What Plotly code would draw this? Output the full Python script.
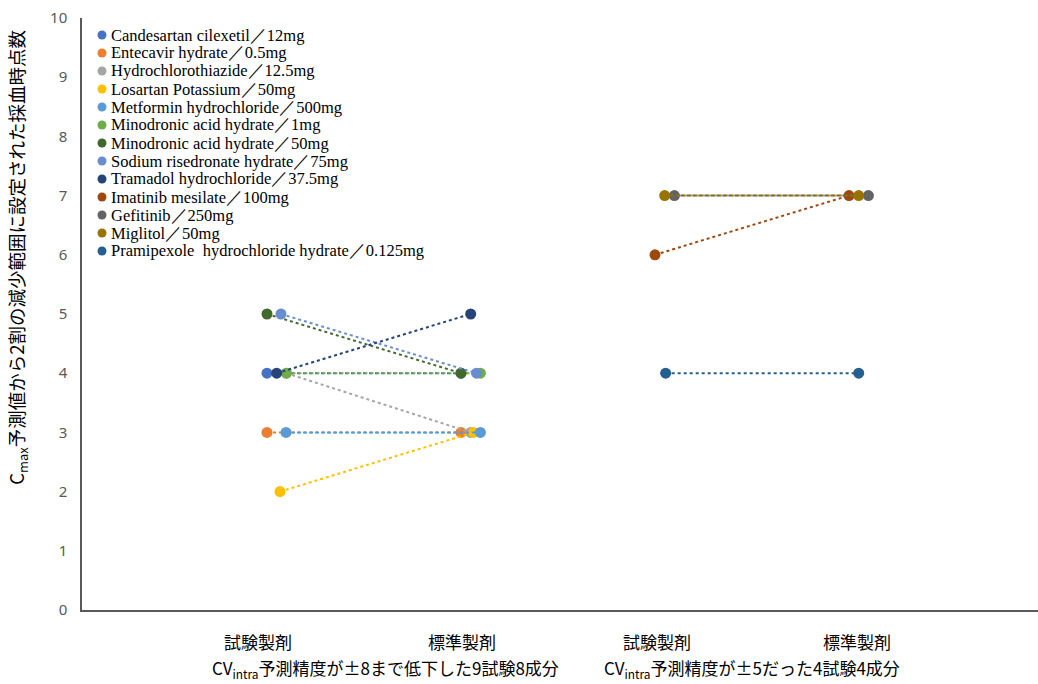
import plotly.graph_objects as go

# Drug / dose labels (legend order)
drugs = [
    "Candesartan cilexetil／12mg",
    "Entecavir hydrate／0.5mg",
    "Hydrochlorothiazide／12.5mg",
    "Losartan Potassium／50mg",
    "Metformin hydrochloride／500mg",
    "Minodronic acid hydrate／1mg",
    "Minodronic acid hydrate／50mg",
    "Sodium risedronate hydrate／75mg",
    "Tramadol hydrochloride／37.5mg",
    "Imatinib mesilate／100mg",
    "Gefitinib／250mg",
    "Miglitol／50mg",
    "Pramipexole  hydrochloride hydrate／0.125mg",
]

# Which comparison group each drug belongs to (0: first pair of columns, 1: second pair)
group = [0, 0, 0, 0, 0, 0, 0, 0, 0, 1, 1, 1, 1]

# Number of sampling points inside the 20% reduction range
test_points = [4, 3, 4, 2, 3, 4, 5, 5, 4, 6, 7, 7, 4]
ref_points = [4, 3, 3, 3, 3, 4, 4, 4, 5, 7, 7, 7, 4]

# Category labels
formulation_labels = ["試験製剤", "標準製剤", "試験製剤", "標準製剤"]
group_labels = [
    "CV<sub>intra</sub>予測精度が±8まで低下した9試験8成分",
    "CV<sub>intra</sub>予測精度が±5だった4試験4成分",
]

# Small horizontal nudges so overlapping markers stay visible
nudge_test = [0.0, 0.0, 0.1, 0.067, 0.098, 0.1, 0.0, 0.072, 0.05, 0.0, 0.1, 0.05, 0.055]
nudge_ref = [0.0, 0.0, 0.05, 0.065, 0.1, 0.1, 0.0, 0.08, 0.05, 0.0, 0.1, 0.05, 0.05]

colors = [
    "#4472C4", "#ED7D31", "#A5A5A5", "#FFC000", "#5B9BD5", "#70AD47",
    "#43682B", "#698ED0", "#264478", "#9E480E", "#636363", "#997300", "#255E91",
]

# Plot-area geometry (pixels)
W, H = 1038, 684
ML, MR, MT, MB = 82, 0, 18, 74
PW, PH = W - ML - MR, H - MT - MB


def px_to_paper_x(px):
    return (px - ML) / PW


def px_to_paper_y(py):
    return (H - MB - py) / PH


fig = go.Figure()

for i, name in enumerate(drugs):
    base = 1 + 2 * group[i]
    xs = [base + nudge_test[i], base + 1 + nudge_ref[i]]
    ys = [test_points[i], ref_points[i]]
    fig.add_trace(go.Scatter(
        x=xs, y=ys, mode="lines+markers", name=name, showlegend=False,
        line=dict(color=colors[i], width=2, dash="dot"),
        marker=dict(color=colors[i], size=11, symbol="circle"),
        hoverinfo="skip",
    ))

# Compact legend: colored dots + serif labels
shapes = []
annotations = []
leg_top, leg_step = 35, 18
for i, name in enumerate(drugs):
    yc = px_to_paper_y(leg_top + leg_step * i)
    shapes.append(dict(
        type="circle", xref="paper", yref="paper",
        xsizemode="pixel", ysizemode="pixel",
        xanchor=px_to_paper_x(102), yanchor=yc,
        x0=-4.5, x1=4.5, y0=-4.5, y1=4.5,
        fillcolor=colors[i], line=dict(width=0),
    ))
    annotations.append(dict(
        x=px_to_paper_x(109), y=yc, xref="paper", yref="paper",
        text=name, showarrow=False, xanchor="left", yanchor="middle",
        font=dict(family="Liberation Serif", size=16.5, color="#000000"),
    ))

label_x = [0.955, 2.005, 3.01, 4.04]
for lx, txt in zip(label_x, formulation_labels):
    annotations.append(dict(
        x=lx, y=0, xref="x", yref="paper", yshift=-31, text=txt,
        showarrow=False, xanchor="center", yanchor="middle",
        font=dict(family="Noto Sans CJK JP", size=17, color="#000000"),
    ))
group_x = [1.61, 3.5]
for gx, txt in zip(group_x, group_labels):
    annotations.append(dict(
        x=gx, y=0, xref="x", yref="paper", yshift=-58, text=txt,
        showarrow=False, xanchor="center", yanchor="middle",
        font=dict(family="Noto Sans CJK JP", size=17, color="#000000"),
    ))
annotations.append(dict(
    x=0, y=0.595, xref="paper", yref="paper", xshift=-64,
    text="C<sub>max</sub>予測値から2割の減少範囲に設定された採血時点数",
    textangle=-90, showarrow=False, xanchor="center", yanchor="middle",
    font=dict(family="Noto Sans CJK JP", size=18.5, color="#000000"),
))

x0 = 1 - 185 / 194
x1 = x0 + PW / 194

fig.update_layout(
    width=W, height=H,
    margin=dict(l=ML, r=MR, t=MT, b=MB),
    paper_bgcolor="white", plot_bgcolor="white",
    showlegend=False,
    xaxis=dict(
        range=[x0, x1], showticklabels=False, ticks="", showgrid=False,
        zeroline=False, showline=True, linecolor="#595959", linewidth=1.5,
    ),
    yaxis=dict(
        range=[0, 10], dtick=1, showgrid=False, zeroline=False,
        showline=True, linecolor="#595959", linewidth=1.5, ticks="",
        ticklabelstandoff=10,
        tickfont=dict(family="Noto Sans", size=15, color="#595959"),
    ),
    shapes=shapes,
    annotations=annotations,
)

fig.write_html("out.html")
